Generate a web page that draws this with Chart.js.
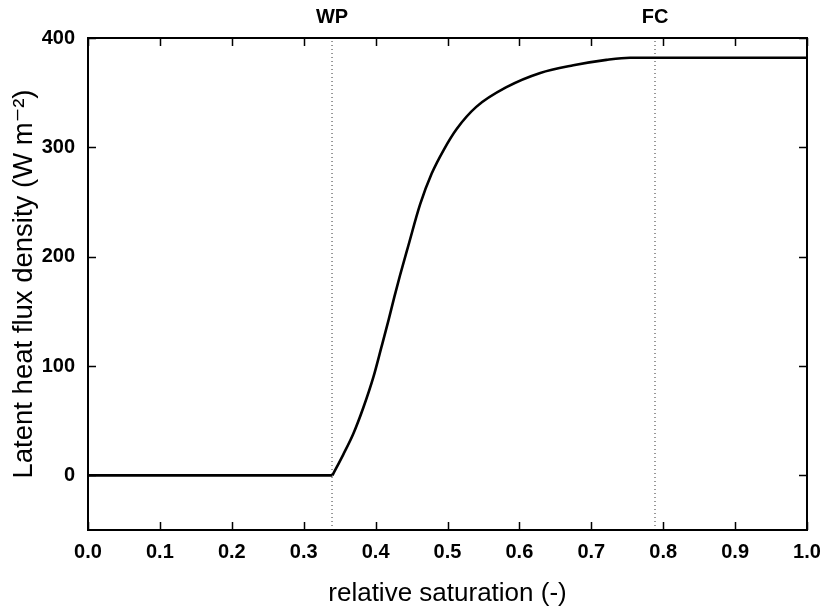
<!DOCTYPE html>
<html>
<head>
<meta charset="utf-8">
<script src="https://cdn.jsdelivr.net/npm/chart.js@4.4.1/dist/chart.umd.min.js"></script>
<style>
html,body{margin:0;padding:0;background:#fff;}
#wrap{width:822px;height:609px;position:relative;}
</style>
</head>
<body>
<div id="wrap"><canvas id="c"></canvas></div>
<script>
// relative saturation (x) and latent heat flux density (y)
const saturation = [0.0, 0.34, 0.355, 0.369, 0.383, 0.397, 0.408, 0.418, 0.426, 0.434, 0.4455, 0.462, 0.478, 0.495, 0.513, 0.540, 0.582, 0.629, 0.675, 0.721, 0.754, 0.79, 1.0];
const latentHeat = [0, 0, 19, 38, 62, 90, 117, 142, 163, 183, 210, 248, 276, 298, 317, 337, 355, 368, 375, 380, 382, 382, 382];

const xTickValues = [0.0, 0.1, 0.2, 0.3, 0.4, 0.5, 0.6, 0.7, 0.8, 0.9, 1.0];
const yTickValues = [0, 100, 200, 300, 400];
const xRange = [0, 1];
const yRange = [-50, 400];

const markerNames = ['WP', 'FC'];
const markerPositions = [0.3394, 0.7886];

const xTitle = 'relative saturation (-)';
const yTitle = 'Latent heat flux density (W m\u207B\u00B2)';

const FONT = "'Liberation Sans', Arial, Helvetica, 'DejaVu Sans', sans-serif";

const points = saturation.map((x, i) => ({ x: x, y: latentHeat[i] }));
// flat part up to the wilting point, then the rising part (sharp corner at WP)
const flatPart = points.slice(0, 2);
const risingPart = points.slice(1);

const markerDatasets = markerPositions.map((p) => ({
  data: [{ x: p, y: yRange[0] }, { x: p, y: yRange[1] }],
  showLine: true,
  borderColor: '#333',
  borderWidth: 1,
  borderDash: [1, 3],
  pointRadius: 0,
  order: 2
}));

const framePlugin = {
  id: 'frameTicks',
  afterDatasetsDraw(chart) {
    const { ctx, chartArea: a, scales } = chart;
    const xs = scales.x, ys = scales.y;
    const tl = 8;
    ctx.save();
    ctx.strokeStyle = '#000';
    ctx.lineWidth = 1.5;
    ctx.beginPath();
    xTickValues.forEach((v) => {
      const px = Math.round(xs.getPixelForValue(v)) + 0.5;
      ctx.moveTo(px, a.bottom); ctx.lineTo(px, a.bottom - tl);
      ctx.moveTo(px, a.top); ctx.lineTo(px, a.top + tl);
    });
    yTickValues.forEach((v) => {
      const py = Math.round(ys.getPixelForValue(v)) + 0.5;
      ctx.moveTo(a.left, py); ctx.lineTo(a.left + tl, py);
      ctx.moveTo(a.right, py); ctx.lineTo(a.right - tl, py);
    });
    ctx.stroke();
    ctx.lineWidth = 2;
    ctx.strokeRect(a.left, a.top, a.right - a.left, a.bottom - a.top);
    ctx.fillStyle = '#000';
    ctx.font = 'bold 20px ' + FONT;
    ctx.textAlign = 'center';
    ctx.textBaseline = 'middle';
    markerNames.forEach((name, i) => {
      ctx.fillText(name, xs.getPixelForValue(markerPositions[i]), 17);
    });
    ctx.restore();
  }
};

const lineStyle = {
  showLine: true,
  borderColor: '#000',
  borderWidth: 2.6,
  pointRadius: 0,
  cubicInterpolationMode: 'monotone',
  order: 1
};

new Chart(document.getElementById('c'), {
  type: 'scatter',
  data: {
    datasets: [
      Object.assign({ data: flatPart }, lineStyle),
      Object.assign({ data: risingPart }, lineStyle),
      ...markerDatasets
    ]
  },
  options: {
    responsive: true,
    maintainAspectRatio: false,
    animation: false,
    devicePixelRatio: 1,
    layout: { padding: { left: 0, right: 15, top: 38, bottom: 0 } },
    plugins: { legend: { display: false }, tooltip: { enabled: false } },
    scales: {
      x: {
        type: 'linear',
        min: xRange[0],
        max: xRange[1],
        afterBuildTicks: (s) => { s.ticks = xTickValues.map((v) => ({ value: v })); },
        afterFit: (s) => { s.height = 79; s.paddingLeft = 0; s.paddingRight = 0; },
        grid: { display: false, drawTicks: false },
        border: { display: false },
        ticks: {
          callback: (v) => Number(v).toFixed(1),
          font: { family: FONT, size: 20, weight: 'bold' },
          color: '#000',
          padding: 10,
          maxRotation: 0,
          autoSkip: false
        },
        title: {
          display: true,
          text: xTitle,
          font: { family: FONT, size: 26 },
          color: '#000',
          padding: { top: 0, bottom: 0 }
        }
      },
      y: {
        type: 'linear',
        min: yRange[0],
        max: yRange[1],
        afterBuildTicks: (s) => { s.ticks = yTickValues.map((v) => ({ value: v })); },
        afterFit: (s) => { s.width = 88; s.paddingTop = 0; s.paddingBottom = 0; },
        grid: { display: false, drawTicks: false },
        border: { display: false },
        ticks: {
          font: { family: FONT, size: 20, weight: 'bold' },
          color: '#000',
          padding: 13,
          autoSkip: false
        },
        title: {
          display: true,
          text: yTitle,
          font: { family: FONT, size: 27.5 },
          color: '#000',
          padding: { top: 8, bottom: 0 }
        }
      }
    }
  },
  plugins: [framePlugin]
});
</script>
</body>
</html>
